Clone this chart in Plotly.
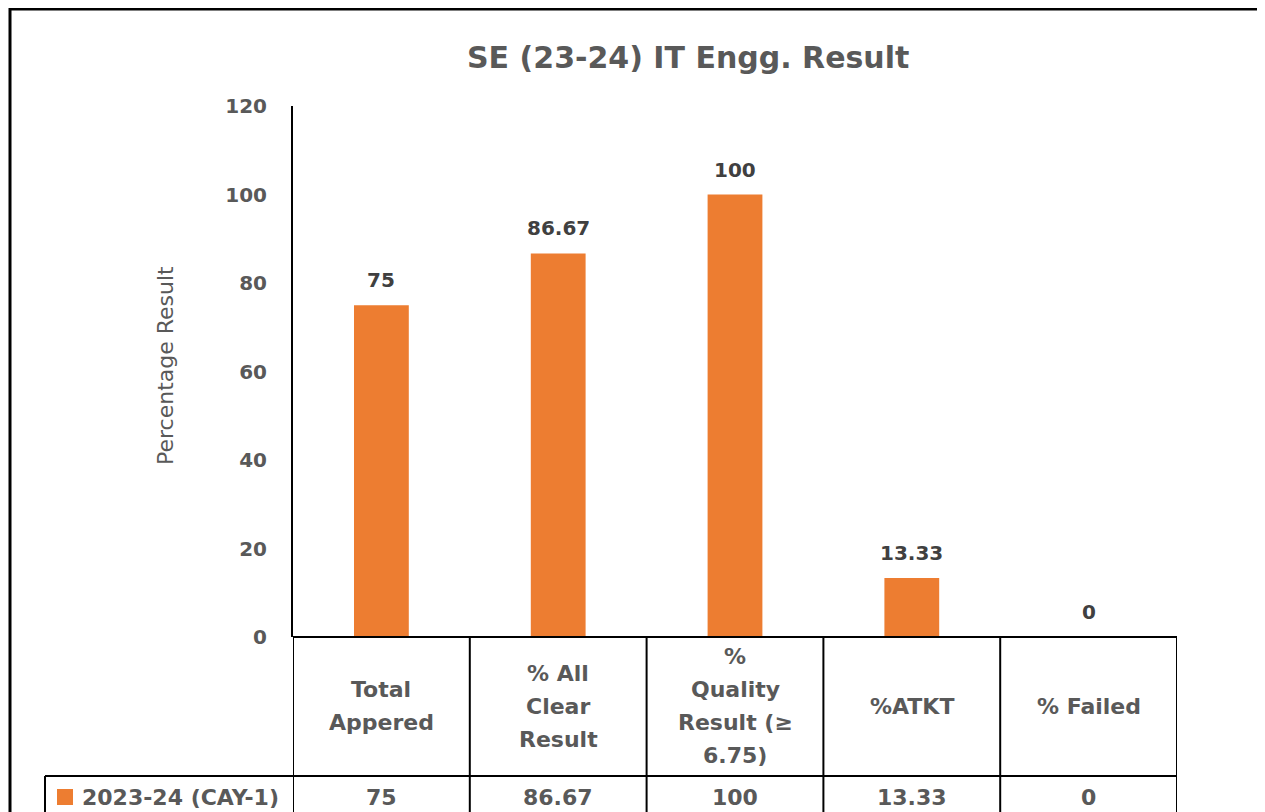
import plotly.graph_objects as go

# ---------------- data ----------------
categories = ["Total Appered", "% All Clear Result", "% Quality Result (≥ 6.75)", "%ATKT", "% Failed"]
header_lines = [["Total", "Appered"],
                ["% All", "Clear", "Result"],
                ["%", "Quality", "Result (≥", "6.75)"],
                ["%ATKT"],
                ["% Failed"]]
values = [75, 86.67, 100, 13.33, 0]
value_text = ["75", "86.67", "100", "13.33", "0"]
series_name = "2023-24 (CAY-1)"
y_ticks = [0, 20, 40, 60, 80, 100, 120]
title_text = "SE (23-24) IT Engg. Result"
y_title = "Percentage Result"

# ---------------- style ----------------
OX, OY = 8, 8          # page offset of the figure inside the browser window
W, H = 1265 - OX, 812 - OY
ML, MR, MT, MB = 293 - OX, 1265 - 1177, 106 - OY, 812 - 637
PW = W - ML - MR
PH = H - MT - MB
ORANGE = "#ED7D31"
GREY = "#595959"
DARK = "#404040"
FAM = "DejaVu Sans"

def px_x(p):  # window pixel x -> paper x
    return (p - OX - ML) / PW

def px_yd(p):  # window pixel y -> y domain
    return (OY + MT + PH - p) / PH

fig = go.Figure()
fig.add_trace(go.Bar(
    x=categories, y=values, name=series_name,
    marker=dict(color=ORANGE, line=dict(width=0)),
    width=0.31, hoverinfo="skip",
))

annotations = []
shapes = []

# data labels above bars
for c, v, t in zip(categories, values, value_text):
    annotations.append(dict(x=c, y=v, xref="x", yref="y", text=t, showarrow=False,
                            yanchor="middle", yshift=25,
                            font=dict(family=FAM, size=20, color=DARK, weight="bold")))

# table header text
hdr_center = px_yd(706)
for c, lines in zip(categories, header_lines):
    n = len(lines)
    for k, ln in enumerate(lines):
        annotations.append(dict(x=c, y=hdr_center, xref="x", yref="y domain", text=ln,
                                showarrow=False, yanchor="middle",
                                yshift=((n - 1) / 2 - k) * 33,
                                font=dict(family=FAM, size=22, color=GREY, weight="bold")))

# table data row
row_center = px_yd(797)
for c, t in zip(categories, value_text):
    annotations.append(dict(x=c, y=row_center, xref="x", yref="y domain", text=t,
                            showarrow=False, yanchor="middle",
                            font=dict(family=FAM, size=22, color=GREY, weight="bold")))
annotations.append(dict(x=px_x(80), y=row_center, xref="paper", yref="y domain",
                        text=series_name, showarrow=False, xanchor="left", yanchor="middle",
                        font=dict(family=FAM, size=22, color=GREY, weight="bold")))
shapes.append(dict(type="rect", xref="paper", yref="y domain",
                   x0=px_x(57), x1=px_x(73), y0=px_yd(805), y1=px_yd(789),
                   fillcolor=ORANGE, line=dict(width=0)))

# y axis title
annotations.append(dict(x=px_x(165), y=px_yd(366), xref="paper", yref="y domain",
                        text=y_title, textangle=-90, showarrow=False,
                        xanchor="center", yanchor="middle",
                        font=dict(family=FAM, size=22, color=GREY)))

# title
annotations.append(dict(x=px_x(688), y=px_yd(58), xref="paper", yref="y domain",
                        text=title_text, showarrow=False, xanchor="center", yanchor="middle",
                        font=dict(family=FAM, size=30, color=GREY, weight="bold")))

# table lines
bottom = px_yd(840)
for i in range(len(categories) + 1):
    shapes.append(dict(type="line", xref="x", yref="y domain", x0=i - 0.5, x1=i - 0.5,
                       y0=0, y1=bottom, line=dict(color="black", width=2)))
shapes.append(dict(type="line", xref="paper", yref="y domain", x0=px_x(45), x1=1,
                   y0=px_yd(776), y1=px_yd(776), line=dict(color="black", width=2)))
shapes.append(dict(type="line", xref="paper", yref="y domain", x0=px_x(45), x1=px_x(45),
                   y0=px_yd(776), y1=bottom, line=dict(color="black", width=2)))
shapes.append(dict(type="line", xref="paper", yref="y domain", x0=0, x1=1,
                   y0=0, y1=0, line=dict(color="black", width=2)))

# outer chart border
shapes.append(dict(type="rect", xref="paper", yref="y domain",
                   x0=px_x(10), x1=px_x(1260), y0=px_yd(850), y1=px_yd(9),
                   line=dict(color="black", width=3), fillcolor="rgba(0,0,0,0)"))

fig.update_layout(
    width=W, height=H,
    margin=dict(l=ML, r=MR, t=MT, b=MB, pad=0),
    paper_bgcolor="white", plot_bgcolor="white",
    showlegend=False,
    annotations=annotations, shapes=shapes,
    xaxis=dict(type="category", range=[-0.5, len(categories) - 0.5], showticklabels=False,
               showgrid=False, zeroline=False, showline=False, ticks=""),
    yaxis=dict(range=[0, 120], tickvals=y_ticks, showgrid=False, zeroline=False,
               showline=True, linecolor="black", linewidth=2, ticks="",
               ticklabelstandoff=20,
               tickfont=dict(family=FAM, size=20, color=GREY, weight="bold")),
)

fig.write_html("out.html")
